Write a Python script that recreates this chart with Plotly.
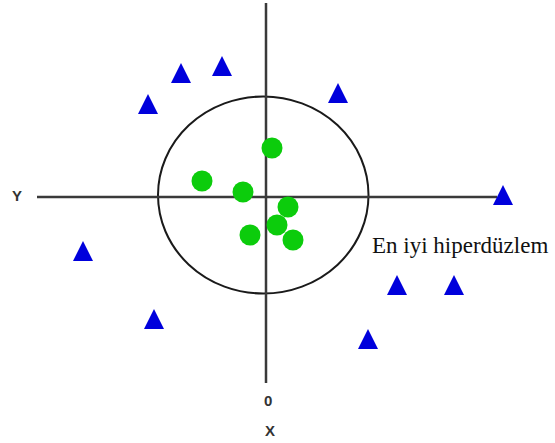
import plotly.graph_objects as go

# Class A samples (inside the boundary)
green_x = [0.6, -6.4, -2.3, 2.2, 1.1, -1.6, 2.7]
green_y = [4.9, 1.6, 0.5, -1.0, -2.8, -3.8, -4.3]

# Class B samples (outside the boundary); each point is the triangle tip
blue_x = [-8.5, -4.4, -11.8, 7.2, -18.3, -11.2, 13.1, 18.8, 10.2, 23.7]
blue_y = [13.4, 14.1, 10.3, 11.4, -4.4, -11.2, -7.8, -7.8, -13.2, 1.2]

# Extents of the drawn coordinate cross
h_axis_x = [-22.9, 23.1]
v_axis_y = [19.4, -18.6]

# Decision boundary (ellipse bounding box)
boundary_x = [-10.8, 10.25]
boundary_y = [-9.65, 10.05]

boundary_label = "En iyi hiperdüzlem"

fig = go.Figure()

axis_style = dict(color="#3a3a3a", width=2.5)
fig.add_trace(go.Scatter(x=h_axis_x, y=[0, 0], mode="lines", line=axis_style,
                         hoverinfo="skip", showlegend=False))
fig.add_trace(go.Scatter(x=[0, 0], y=v_axis_y, mode="lines", line=axis_style,
                         hoverinfo="skip", showlegend=False))

fig.add_shape(type="circle", xref="x", yref="y",
              x0=boundary_x[0], x1=boundary_x[1],
              y0=boundary_y[0], y1=boundary_y[1],
              line=dict(color="#1a1a1a", width=2), layer="below")

fig.add_trace(go.Scatter(x=green_x, y=green_y, mode="markers",
                         marker=dict(symbol="circle", size=21, color="#0ccc0c",
                                     line=dict(width=0)),
                         hoverinfo="skip", showlegend=False))
fig.add_trace(go.Scatter(x=blue_x, y=blue_y, mode="markers",
                         marker=dict(symbol="arrow-up", size=20, color="#0000dc",
                                     line=dict(width=0)),
                         hoverinfo="skip", showlegend=False))

label_font = dict(family="Liberation Sans, Arial, sans-serif", size=15, color="#333333")
fig.add_annotation(x=-24.9, y=0.2, text="<b>Y</b>", showarrow=False, font=label_font)
fig.add_annotation(x=0.2, y=-20.3, text="<b>0</b>", showarrow=False, font=label_font)
fig.add_annotation(x=0.4, y=-23.3, text="<b>X</b>", showarrow=False, font=label_font)
fig.add_annotation(x=10.4, y=-4.8, text=boundary_label, showarrow=False,
                   xanchor="left", yanchor="middle",
                   font=dict(family="Liberation Serif, Times New Roman, serif",
                             size=23, color="#111111"))

fig.update_xaxes(range=[-26.6, 28.9], visible=False, fixedrange=True)
fig.update_yaxes(range=[-24.6, 19.7], visible=False, fixedrange=True)
fig.update_layout(width=555, height=443, margin=dict(l=0, r=0, t=0, b=0),
                  paper_bgcolor="white", plot_bgcolor="white")

fig.write_html("out.html", config={"displayModeBar": False})
